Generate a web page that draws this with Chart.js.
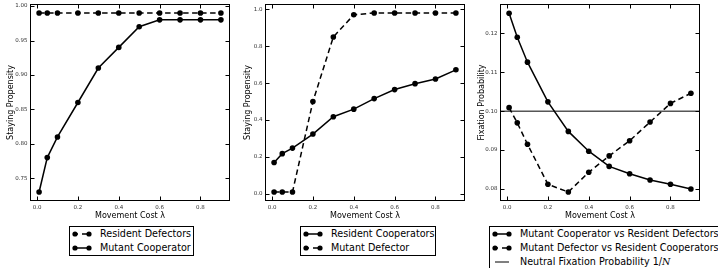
<!DOCTYPE html>
<html><head><meta charset="utf-8">
<script src="https://cdn.jsdelivr.net/npm/chart.js@4.4.1/dist/chart.umd.min.js"></script>
<style>
html,body{margin:0;padding:0;background:#fff;width:718px;height:268px;overflow:hidden;position:relative;}
canvas.panel{position:absolute;top:0;}
.legend{position:absolute;border:1px solid #000;background:#fff;font-family:"DejaVu Sans";font-size:9.6px;color:#000;box-sizing:border-box;}
.row{height:14px;line-height:14px;white-space:nowrap;position:relative;}
.row svg{position:absolute;left:0;top:3px;}
.row span{position:absolute;left:30px;top:0;}
</style></head><body>
<canvas class="panel" id="c1" width="234" height="222" style="left:0px"></canvas>
<canvas class="panel" id="c2" width="234" height="222" style="left:235px"></canvas>
<canvas class="panel" id="c3" width="234" height="222" style="left:470px"></canvas>
<div class="legend" id="l1" style="left:69px;top:226px;width:125px;height:30px"></div>
<div class="legend" id="l2" style="left:300px;top:226px;width:136px;height:30px"></div>
<div class="legend" id="l3" style="left:489px;top:226px;width:240px;height:46px"></div>
<script>
// ---- data ----
const lambdaValues = [0.01, 0.05, 0.1, 0.2, 0.3, 0.4, 0.5, 0.6, 0.7, 0.8, 0.9];
// panel 1
const residentDefectorsStay = [0.99, 0.99, 0.99, 0.99, 0.99, 0.99, 0.99, 0.99, 0.99, 0.99, 0.99];
const mutantCooperatorStay = [0.73, 0.78, 0.81, 0.86, 0.91, 0.94, 0.97, 0.98, 0.98, 0.98, 0.98];
// panel 2
const residentCooperatorsStay = [0.170, 0.218, 0.248, 0.324, 0.418, 0.459, 0.516, 0.565, 0.597, 0.622, 0.672];
const mutantDefectorStay = [0.01, 0.01, 0.01, 0.50, 0.85, 0.97, 0.98, 0.98, 0.98, 0.98, 0.98];
// panel 3
const fixCoopVsDefectors = [0.1252, 0.1190, 0.1126, 0.1024, 0.0948, 0.0897, 0.0858, 0.0839, 0.0823, 0.0812, 0.0800];
const fixDefVsCooperators = [0.1009, 0.0970, 0.0915, 0.0812, 0.0792, 0.0843, 0.0885, 0.0924, 0.0972, 0.1020, 0.1046];
const neutralFixation = 0.1;
// ticks
const xTicks = [0, 0.2, 0.4, 0.6, 0.8];
const yTicks1 = [0.75, 0.80, 0.85, 0.90, 0.95, 1.00];
const yTicks2 = [0.0, 0.2, 0.4, 0.6, 0.8, 1.0];
const yTicks3 = [0.08, 0.09, 0.10, 0.11, 0.12];
// axis limits (matplotlib-style 5% margins)
const xLim = [-0.0345, 0.9445];
const yLim1 = [0.717, 1.003];
const yLim2 = [-0.0385, 1.0285];
const yLim3 = [0.0769, 0.12756];

const legend1 = [['Resident Defectors', 'dash'], ['Mutant Cooperator', 'solid']];
const legend2 = [['Resident Cooperators', 'solid'], ['Mutant Defector', 'dash']];
const legend3 = [['Mutant Cooperator vs Resident Defectors', 'solid'], ['Mutant Defector vs Resident Cooperators', 'dash'], ['Neutral Fixation Probability 1/<i style="font-family:\'DejaVu Serif\'">N</i>', 'line']];

const FONT = 'DejaVu Sans';
const DASH = [5.5, 3.5];

const framePlugin = {
  id: 'frame',
  afterDraw(chart) {
    const {ctx, chartArea: {left, right, top, bottom}} = chart;
    const xs = chart.scales.x, ys = chart.scales.y;
    ctx.save();
    ctx.strokeStyle = '#000';
    ctx.lineWidth = 1;
    const L = Math.round(left) + 0.5, R = Math.round(right) - 0.5, T = Math.round(top) + 0.5, B = Math.round(bottom) - 0.5;
    ctx.strokeRect(L, T, R - L, B - T);
    const tl = 4;
    ctx.beginPath();
    xs.ticks.forEach(t => {
      const p = Math.round(xs.getPixelForValue(t.value)) + 0.5;
      ctx.moveTo(p, B); ctx.lineTo(p, B - tl);
      ctx.moveTo(p, T); ctx.lineTo(p, T + tl);
    });
    ys.ticks.forEach(t => {
      const p = Math.round(ys.getPixelForValue(t.value)) + 0.5;
      ctx.moveTo(L, p); ctx.lineTo(L + tl, p);
      ctx.moveTo(R, p); ctx.lineTo(R - tl, p);
    });
    ctx.stroke();
    ctx.restore();
  }
};

function series(arr, label, dashed) {
  return {
    label,
    data: lambdaValues.map((x, i) => ({x, y: arr[i]})),
    borderColor: '#000', backgroundColor: '#000',
    borderWidth: 1.5, borderDash: dashed ? DASH : [],
    pointRadius: 2.8, pointBorderWidth: 0, pointBackgroundColor: '#000',
    tension: 0, fill: false
  };
}

function makeChart(id, datasets, yLim, yTicks, yDec, yTitle, yTitlePad) {
  return new Chart(document.getElementById(id), {
    type: 'line',
    data: {datasets},
    options: {
      responsive: false, animation: false, devicePixelRatio: 1,
      layout: {padding: {left: 0, right: 2, top: 1, bottom: 0}},
      plugins: {legend: {display: false}, tooltip: {enabled: false}},
      scales: {
        x: {
          type: 'linear', min: xLim[0], max: xLim[1],
          grid: {display: false, drawTicks: false}, border: {display: false},
          ticks: {font: {family: FONT, size: 5.5}, color: '#333', padding: 3, maxRotation: 0, autoSkip: false,
                  callback: v => Number(v).toFixed(1)},
          afterBuildTicks: s => { s.ticks = xTicks.map(v => ({value: v})); },
          afterFit: s => { s.height = 21; s.paddingLeft = 0; s.paddingRight = 0; s.paddingTop = 0; s.paddingBottom = 0; },
          title: {display: true, text: 'Movement Cost λ', font: {family: FONT, size: 8}, color: '#000', padding: {top: 0, bottom: 1.5}}
        },
        y: {
          type: 'linear', min: yLim[0], max: yLim[1],
          grid: {display: false, drawTicks: false}, border: {display: false},
          ticks: {font: {family: FONT, size: 5.5}, color: '#333', padding: 2.5, autoSkip: false,
                  callback: v => Number(v).toFixed(yDec)},
          afterBuildTicks: s => { s.ticks = yTicks.map(v => ({value: v})); },
          afterFit: s => { s.width = 30; s.paddingLeft = 0; s.paddingRight = 0; s.paddingTop = 0; s.paddingBottom = 0; },
          title: {display: true, text: yTitle, font: {family: FONT, size: 8}, color: '#000', padding: {top: yTitlePad, bottom: 0}}
        }
      }
    },
    plugins: [framePlugin]
  });
}

makeChart('c1', [
  series(residentDefectorsStay, legend1[0][0], true),
  series(mutantCooperatorStay, legend1[1][0], false)
], yLim1, yTicks1, 2, 'Staying Propensity', 5.7);

makeChart('c2', [
  series(residentCooperatorsStay, legend2[0][0], false),
  series(mutantDefectorStay, legend2[1][0], true)
], yLim2, yTicks2, 1, 'Staying Propensity', 8.2);

makeChart('c3', [
  series(fixCoopVsDefectors, 'Mutant Cooperator vs Resident Defectors', false),
  series(fixDefVsCooperators, 'Mutant Defector vs Resident Cooperators', true),
  {
    label: 'Neutral Fixation Probability 1/N',
    data: [{x: xLim[0], y: neutralFixation}, {x: xLim[1], y: neutralFixation}],
    borderColor: '#000', borderWidth: 1, pointRadius: 0, tension: 0, fill: false
  }
], yLim3, yTicks3, 2, 'Fixation Probability', 7.2);

function marker(kind) {
  if (kind === 'line') {
    return '<svg width="26" height="8"><line x1="5" y1="4" x2="19" y2="4" stroke="#000" stroke-width="1"/></svg>';
  }
  const dash = kind === 'dash' ? ' stroke-dasharray="3 4 7"' : '';
  return '<svg width="26" height="8"><line x1="5" y1="4" x2="19" y2="4" stroke="#000" stroke-width="1.5"' + dash +
    '/><circle cx="5" cy="4" r="2.6" fill="#000"/><circle cx="19" cy="4" r="2.6" fill="#000"/></svg>';
}
function buildLegend(id, items) {
  document.getElementById(id).innerHTML = items.map(([t, k]) =>
    '<div class="row">' + marker(k) + '<span>' + t + '</span></div>').join('');
}
buildLegend('l1', legend1);
buildLegend('l2', legend2);
buildLegend('l3', legend3);
</script>
</body></html>
